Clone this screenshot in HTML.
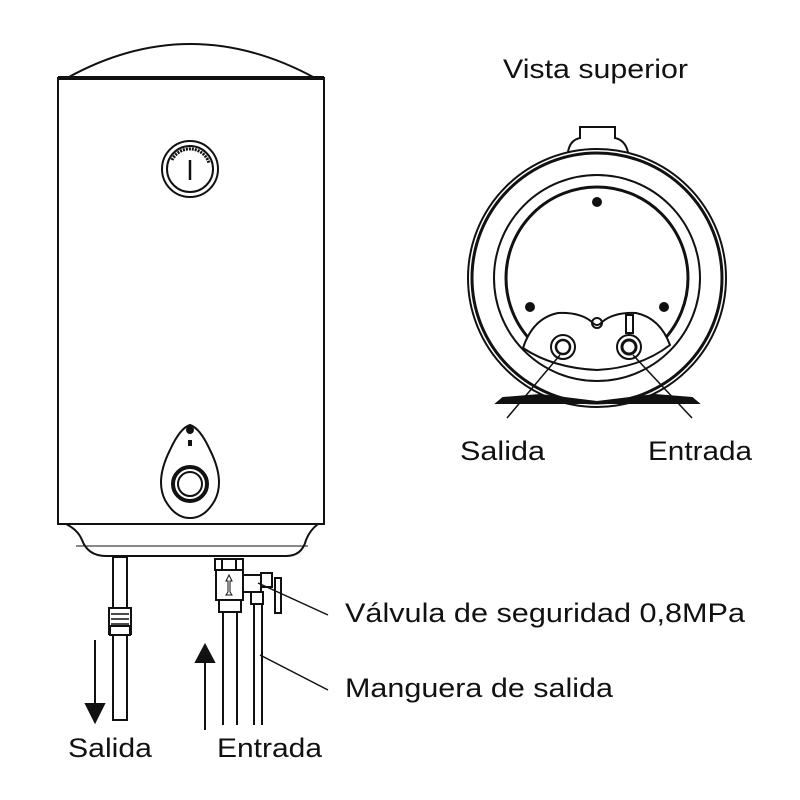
<!DOCTYPE html>
<html><head><style>body{margin:0;background:#fff}svg{display:block}text{font-family:"Liberation Sans",sans-serif;fill:#111}</style></head><body>
<svg width="800" height="800" viewBox="0 0 800 800" xmlns="http://www.w3.org/2000/svg" fill="none" stroke="#111" stroke-width="2">
<!-- heater -->
<path d="M67 78 Q190 10 315 78" />
<rect x="58" y="78" width="266" height="446" stroke-width="2"/>
<line x1="58" y1="78" x2="324" y2="78" stroke-width="4"/>
<path d="M66 524 Q78 530 82 540 Q88 556 106 556 L286 556 Q302 556 306 540 Q310 530 318 524" />
<line x1="76" y1="546" x2="308" y2="546" stroke-width="1"/>
<circle cx="190" cy="169" r="28"/><circle cx="190" cy="169" r="23"/>
<path d="M172 160 A20 20 0 0 1 209 163" stroke-width="3" stroke-dasharray="2 1"/>
<line x1="190" y1="160" x2="190" y2="180" stroke-width="2.5"/>
<path d="M190 425 Q180 428 170 450 Q155 480 165 500 Q175 518 190 518 Q205 518 215 500 Q225 480 210 450 Q200 428 190 425Z"/>
<circle cx="190" cy="430" r="3" fill="#111"/><rect x="188" y="440" width="4" height="6" fill="#111" stroke="none"/>
<circle cx="190" cy="484" r="17" stroke-width="4"/><circle cx="190" cy="484" r="12"/>
<!-- left pipe -->
<rect x="113" y="557" width="14" height="163"/>
<rect x="109" y="608" width="22" height="26" fill="#fff"/>
<path d="M111 614 H129 M111 619 H129 M111 624 H129 M111 629 H129" stroke-width="1.5"/>
<rect x="110" y="626" width="20" height="9" fill="#fff"/>
<line x1="95" y1="640" x2="95" y2="705"/>
<path d="M86 704 L104 704 L95 722Z" fill="#111"/>
<!-- right fittings -->
<rect x="215" y="559" width="28" height="11"/>
<line x1="222" y1="559" x2="222" y2="570"/><line x1="236" y1="559" x2="236" y2="570"/>
<rect x="216" y="570" width="27" height="30" fill="#fff"/>
<rect x="219" y="600" width="22" height="12"/>
<path d="M229 575 L226 581 L228 581 L228 592 L226 595 L232 595 L230 592 L230 581 L232 581Z" stroke-width="1"/>
<rect x="243" y="575" width="18" height="17"/>
<rect x="261" y="573" width="11" height="14"/>
<rect x="275" y="578" width="6" height="35" fill="#fff"/>
<rect x="251" y="592" width="12" height="12"/>
<line x1="223" y1="612" x2="223" y2="725"/><line x1="237" y1="612" x2="237" y2="725"/>
<line x1="254" y1="604" x2="254" y2="725"/><line x1="262" y1="604" x2="262" y2="725"/>
<line x1="205" y1="660" x2="205" y2="730"/>
<path d="M196 662 L214 662 L205 645Z" fill="#111"/>
<line x1="258" y1="583" x2="328" y2="615" stroke-width="1.5"/>
<line x1="260" y1="655" x2="328" y2="690" stroke-width="1.5"/>
<!-- top view -->
<path d="M568 152 Q570 140 580 138 L580 127 L615 127 L615 138 Q625 140 628 152"/>
<circle cx="597" cy="278" r="129"/><circle cx="597" cy="278" r="125" stroke-width="3"/>
<circle cx="597" cy="278" r="103"/><circle cx="597" cy="278" r="91" stroke-width="3"/>
<circle cx="597" cy="202" r="4" fill="#111"/><circle cx="530" cy="307" r="4" fill="#111"/><circle cx="664" cy="307" r="4" fill="#111"/>
<path d="M523 348 Q533 318 558 313 Q580 312 592 322 Q597 328 602 322 Q614 312 636 313 Q660 318 670 345 Q640 368 597 370 Q553 368 523 348Z" fill="#fff"/>
<circle cx="597" cy="323" r="5"/>
<circle cx="563" cy="347" r="12"/><circle cx="563" cy="347" r="7" stroke-width="2.5"/>
<circle cx="629" cy="347" r="12"/><circle cx="629" cy="347" r="7" stroke-width="3"/>
<rect x="626" y="315" width="7" height="18"/>
<path d="M497 403 L503 398 L540 395 L597 402 L655 395 L692 398 L698 403 Z" fill="#111"/>
<line x1="560" y1="355" x2="507" y2="418" stroke-width="1.5"/>
<line x1="633" y1="355" x2="692" y2="418" stroke-width="1.5"/>
<g stroke="none" font-size="27">
<text x="503" y="78" textLength="185" lengthAdjust="spacingAndGlyphs">Vista superior</text>
<text x="460" y="460" textLength="85" lengthAdjust="spacingAndGlyphs">Salida</text>
<text x="648" y="460" textLength="104" lengthAdjust="spacingAndGlyphs">Entrada</text>
<text x="345" y="622" textLength="400" lengthAdjust="spacingAndGlyphs">Válvula de seguridad 0,8MPa</text>
<text x="345" y="697" textLength="268" lengthAdjust="spacingAndGlyphs">Manguera de salida</text>
<text x="68" y="757" textLength="84" lengthAdjust="spacingAndGlyphs">Salida</text>
<text x="217" y="757" textLength="105" lengthAdjust="spacingAndGlyphs">Entrada</text>
</g>
</svg>
</body></html>
